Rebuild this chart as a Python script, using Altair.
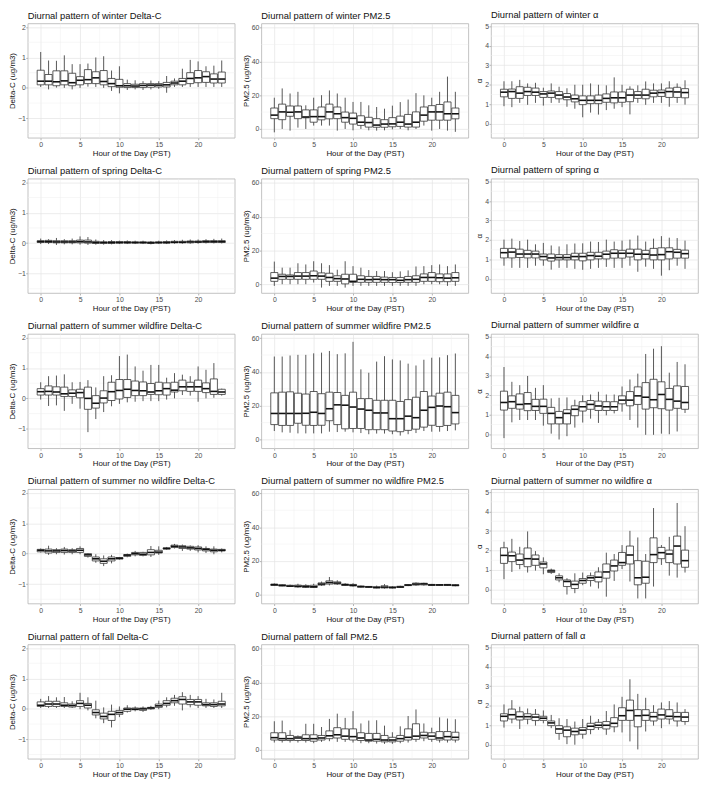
import altair as alt
import pandas as pd

FONT = "Liberation Sans"
HOURS = list(range(24))

# ---------------- winter ----------------
WDC_HI = [1.18,0.90,0.89,1.07,0.78,0.78,0.80,1.00,1.04,0.57,0.71,0.27,0.25,0.22,0.24,0.22,0.39,0.31,0.63,0.92,0.87,0.71,0.73,0.90]
WDC_Q3 = [0.58,0.44,0.56,0.56,0.48,0.37,0.60,0.53,0.57,0.31,0.28,0.14,0.12,0.14,0.14,0.14,0.18,0.22,0.31,0.50,0.57,0.53,0.46,0.52]
WDC_MED = [0.22,0.22,0.20,0.23,0.17,0.25,0.27,0.33,0.21,0.14,0.07,0.07,0.06,0.08,0.09,0.09,0.10,0.16,0.22,0.31,0.33,0.37,0.29,0.29]
WDC_Q1 = [0.10,0.10,0.07,0.10,0.07,0.10,0.14,0.14,0.10,0.04,0.02,0.01,0.01,0.01,0.02,0.03,0.03,0.10,0.10,0.14,0.17,0.18,0.16,0.16]
WDC_LO = [0.03,-0.05,0.01,0.00,-0.05,0.00,0.04,0.03,0.00,-0.10,-0.18,-0.07,-0.05,-0.07,-0.05,-0.03,-0.16,0.03,0.03,0.03,0.03,0.03,0.03,0.03]

WPM_HI = [18.5,24,21,22,14,18.5,20,22.8,21,18.5,16,16,14,13,12,13.8,15.9,17.4,21.2,19.9,18.5,22,31,22]
WPM_Q3 = [12.4,14.7,13.6,13.6,11.3,11.3,13,14.7,13,10,9.4,7.8,6.9,6.1,5.5,6.7,7.6,8.6,10.1,13,13.8,14.5,16,12.4]
WPM_MED = [8.2,10.1,9.9,10.1,7.1,7.3,7.3,10.1,9,6.7,6.3,4,3.8,2.3,2.9,3,4,2.9,4,8.2,10.1,10.1,9,9]
WPM_Q1 = [6.1,5.5,7.5,6.1,6.6,4,5.4,6,6.1,4,2.9,2.1,1.1,1,1,1.3,1.5,1.1,1.1,4.6,5.2,5.2,5.2,6]
WPM_LO = [-2,0,-1,0.8,0,2,2,2,-1,0,-0.8,0,-0.8,-1,-0.8,-0.2,0,-0.8,0,2,-1,0,-1,-1.7]

WAL_HI = [2.18,2.18,2.25,2.07,2.1,1.85,2.07,1.9,1.82,2.0,2.0,2.07,2.0,1.97,2.38,2.0,1.92,1.97,2.17,2.07,2.07,2.18,2.07,2.23]
WAL_Q3 = [1.77,1.78,1.9,1.87,1.83,1.65,1.68,1.65,1.55,1.47,1.43,1.43,1.47,1.53,1.63,1.63,1.77,1.65,1.77,1.72,1.73,1.83,1.87,1.8]
WAL_MED = [1.62,1.65,1.57,1.65,1.62,1.53,1.57,1.47,1.37,1.28,1.2,1.2,1.2,1.3,1.33,1.33,1.47,1.47,1.47,1.57,1.6,1.65,1.63,1.6]
WAL_Q1 = [1.38,1.3,1.3,1.45,1.45,1.35,1.35,1.28,1.23,1.12,0.98,1.03,1.03,1.1,1.07,1.1,1.13,1.3,1.28,1.38,1.4,1.35,1.35,1.33]
WAL_LO = [0.9,0.85,1.07,0.97,1.07,0.93,1.07,1.07,0.87,0.77,0.33,0.57,0.47,0.7,0.77,0.85,0.48,1.07,0.97,1.07,1.07,0.87,1.07,0.98]

# ---------------- spring ----------------
SPDC_HI = [0.15,0.13,0.17,0.13,0.15,0.22,0.20,0.12,0.10,0.10,0.08,0.09,0.08,0.08,0.07,0.08,0.09,0.10,0.11,0.12,0.12,0.13,0.14,0.15]
SPDC_Q3 = [0.08,0.09,0.08,0.08,0.08,0.10,0.10,0.06,0.04,0.05,0.05,0.05,0.04,0.04,0.04,0.04,0.05,0.06,0.06,0.07,0.07,0.08,0.08,0.08]
SPDC_MED = [0.05,0.05,0.04,0.04,0.04,0.05,0.04,0.02,0.02,0.02,0.02,0.02,0.02,0.02,0.01,0.02,0.02,0.03,0.03,0.04,0.04,0.05,0.05,0.05]
SPDC_Q1 = [0.02,0.02,0.01,0.01,0.01,0.01,0.00,-0.01,-0.01,-0.01,0.00,0.00,0.00,0.00,-0.01,0.00,0.00,0.01,0.01,0.01,0.02,0.02,0.02,0.02]
SPDC_LO = [-0.03,-0.03,-0.06,-0.04,-0.04,-0.05,-0.06,-0.05,-0.05,-0.04,-0.03,-0.03,-0.03,-0.03,-0.04,-0.03,-0.03,-0.02,-0.02,-0.02,-0.02,-0.01,-0.01,-0.01]

SPPM_HI = [13.4,9.8,9.8,12.4,11.7,13.6,12.4,11.3,8.6,13.6,10.7,9.8,8.4,7.8,7.8,7.1,7.6,8.2,10.5,10.7,11.3,11.7,10.7,11.7]
SPPM_Q3 = [6.9,5.9,5.5,6.9,6.9,7.8,6.7,6.5,5,5.9,5.9,5,4.6,4.6,4.2,4,4,4.6,5,6.1,6.9,6.1,6.1,6.9]
SPPM_MED = [3.6,4.6,4.6,4.8,4.8,5,4.8,4,3.3,3.1,1.7,2.9,2.7,2.9,2.7,2.7,2.3,2.7,2.9,4,4,3.8,3.6,3.8]
SPPM_Q1 = [1.7,2.9,2.9,2.9,2.9,2.9,2.9,1.7,1.7,0.2,1.1,1.1,1.1,1.1,1.1,1,1,1.1,1.1,1.7,1.7,1.5,1.5,1.7]
SPPM_LO = [-1,0,0,0,0,1,-2,-1,-1,-2,-1,-1,-1,-1,-1,-1,-1,-1,-1,0,0,0,-1,-1]

SPAL_HI = [2.02,2.07,1.95,2.02,1.78,1.85,1.72,1.67,1.78,1.82,1.83,1.92,1.9,2.02,1.92,1.97,2.02,2.23,1.92,2.07,2.2,2.12,2.1,1.97]
SPAL_Q3 = [1.57,1.57,1.53,1.47,1.43,1.28,1.28,1.25,1.25,1.32,1.32,1.37,1.37,1.43,1.5,1.47,1.53,1.53,1.47,1.57,1.6,1.6,1.52,1.48]
SPAL_MED = [1.35,1.38,1.28,1.28,1.28,1.15,1.08,1.1,1.1,1.15,1.15,1.2,1.17,1.27,1.32,1.32,1.32,1.27,1.27,1.23,1.25,1.4,1.37,1.3]
SPAL_Q1 = [1.08,1.08,1.1,1.08,1.08,0.98,0.92,0.98,0.98,0.98,0.93,0.98,1.03,1.03,1.07,1.07,1.13,0.98,1.03,0.98,0.98,1.03,1.07,1.07]
SPAL_LO = [0.68,0.57,0.57,0.57,0.68,0.68,0.48,0.57,0.57,0.52,0.47,0.52,0.57,0.62,0.57,0.57,0.68,0.37,0.63,0.52,0.17,0.45,0.68,0.52]

# ---------------- summer wildfire ----------------
SWDC_HI = [0.53,0.73,0.75,0.79,0.53,0.54,0.60,0.36,0.73,0.76,1.39,1.44,1.05,0.91,1.10,1.10,0.68,0.83,0.78,0.73,1.05,0.94,1.16,0.32]
SWDC_Q3 = [0.32,0.41,0.38,0.37,0.28,0.30,0.37,0.09,0.25,0.53,0.62,0.62,0.57,0.54,0.49,0.53,0.51,0.53,0.60,0.53,0.60,0.51,0.64,0.30]
SWDC_MED = [0.22,0.23,0.21,0.15,0.17,0.19,0.00,-0.16,0.01,0.22,0.26,0.30,0.26,0.25,0.21,0.25,0.32,0.27,0.38,0.38,0.38,0.32,0.23,0.21]
SWDC_Q1 = [0.11,0.11,0.11,0.06,0.06,0.02,-0.36,-0.32,-0.15,-0.07,-0.02,0.03,0.09,0.09,0.13,0.12,0.11,0.21,0.25,0.23,0.23,0.19,0.13,0.13]
SWDC_LO = [-0.04,-0.25,-0.23,-0.41,-0.18,-0.34,-1.11,-0.68,-0.45,-0.26,-0.18,-0.13,-0.11,-0.09,-0.09,-0.09,-0.04,0.00,0.11,0.09,-0.11,0.00,0.02,0.09]

SWPM_HI = [49.1,49.1,49.7,50.1,50.1,51,51.4,52.4,50.5,51,57.8,41.5,39.5,46.1,49.3,47.4,46.8,44.9,43.8,47.2,48.4,48.6,49.9,50.9]
SWPM_Q3 = [27.6,28,28.2,27.4,26.9,28.4,27.1,28,27.8,26.1,28,24.2,24.2,23.2,23.2,23.2,22.5,23.6,25,28.4,25.7,27.4,28,26.1]
SWPM_MED = [15.4,15.4,15.4,15.4,15.5,16.1,15.4,18.2,20.5,20.3,19.2,18,17.3,15.7,15.7,12.3,12.3,13.8,12.9,17.3,19,19.8,19.4,15.9]
SWPM_Q1 = [8.8,8.3,8.3,9.6,8.4,8.3,8.4,11.1,8.8,6.3,6.5,6.5,5.8,5.8,5.8,5,4.6,5.4,6.1,7.3,8.4,7.7,8.3,9.2]
SWPM_LO = [5,4.2,4,3.6,3.6,3.6,3.6,4.6,4.4,4.6,4.2,3.8,3.1,3.5,3.5,3.1,2.3,3.1,3.8,5,4.6,4.6,5,5.4]

SWAL_HI = [3.45,2.69,2.52,2.99,2.38,2.52,1.84,1.87,1.89,1.77,2.0,2.04,2.18,2.04,2.04,2.45,2.81,3.11,4.12,4.39,4.52,3.16,3.71,3.59]
SWAL_Q3 = [2.21,1.97,2.07,2.14,1.79,1.8,1.38,1.17,1.26,1.46,1.67,1.73,1.7,1.67,1.67,1.97,2.19,2.43,2.65,2.82,2.69,2.35,2.48,2.45]
SWAL_MED = [1.63,1.67,1.53,1.56,1.43,1.43,1.07,0.85,1.07,1.28,1.41,1.53,1.45,1.41,1.41,1.75,1.75,1.97,1.9,1.77,2.04,1.79,1.7,1.63]
SWAL_Q1 = [1.24,1.33,1.29,1.21,1.22,1.07,0.53,0.53,0.53,0.95,1.19,1.28,1.22,1.22,1.22,1.56,1.46,1.53,1.29,1.36,1.31,1.24,1.33,1.28]
SWAL_LO = [-0.2,0.61,0.73,0.73,0.73,0.44,0.03,-0.27,-0.1,0.34,0.6,0.8,0.58,0.97,1.07,1.16,0.73,0.34,-0.03,-0.03,0.03,0.0,0.14,1.09]

# ---------------- summer no wildfire ----------------
SNDC_HI = [0.17,0.26,0.18,0.22,0.18,0.24,0.02,-0.02,-0.06,-0.04,-0.11,0.0,0.09,0.06,0.25,0.24,0.22,0.32,0.30,0.27,0.28,0.24,0.24,0.17]
SNDC_Q3 = [0.14,0.15,0.13,0.15,0.13,0.17,0.0,-0.11,-0.17,-0.11,-0.13,-0.03,0.04,0.04,0.13,0.11,0.19,0.28,0.26,0.24,0.22,0.17,0.15,0.14]
SNDC_MED = [0.11,0.09,0.09,0.10,0.09,0.11,-0.04,-0.17,-0.25,-0.17,-0.15,-0.05,0.0,-0.02,0.04,0.05,0.17,0.24,0.22,0.19,0.17,0.14,0.11,0.11]
SNDC_Q1 = [0.06,0.02,0.04,0.04,0.04,0.04,-0.09,-0.24,-0.32,-0.24,-0.18,-0.09,-0.04,-0.06,-0.04,0.02,0.15,0.2,0.17,0.15,0.12,0.09,0.06,0.09]
SNDC_LO = [0.04,-0.04,-0.02,-0.03,-0.02,-0.02,-0.13,-0.3,-0.41,-0.32,-0.2,-0.12,-0.09,-0.09,-0.11,-0.04,0.13,0.17,0.09,0.09,0.04,0.02,-0.02,0.04]

SNPM_HI = [6.7,6.1,6.0,6.5,6.2,6.5,7.8,10.5,8.6,6.8,6.8,5.4,5.1,5.4,6.3,5.0,5.3,6.2,7.3,7.1,6.4,6.2,6.3,6.2]
SNPM_Q3 = [6.3,5.9,5.6,5.7,5.5,5.6,7.0,8.2,7.6,6.3,6.1,5.1,4.9,4.7,5.3,4.6,5.0,6.0,6.9,6.8,6.1,6.0,6.1,5.9]
SNPM_MED = [5.9,5.5,5.1,5.0,4.8,4.7,6.3,7.2,6.9,5.9,5.6,4.8,4.6,4.3,4.5,4.3,4.6,5.7,6.3,6.4,5.8,5.8,5.8,5.6]
SNPM_Q1 = [5.5,5.2,4.9,4.6,4.4,4.3,5.7,6.3,6.3,5.5,5.2,4.5,4.4,4.0,4.0,4.0,4.3,5.4,5.7,5.8,5.5,5.5,5.5,5.3]
SNPM_LO = [5.2,5.0,4.6,4.2,4.0,4.0,5.2,5.5,5.8,5.2,4.8,4.2,4.2,3.8,3.6,3.7,4.0,5.1,5.3,5.4,5.2,5.2,5.2,5.0]

SNAL_HI = [2.45,2.6,2.19,2.98,1.97,1.65,1.07,0.83,0.58,0.83,0.87,0.87,1.14,1.89,1.82,2.28,3.01,2.67,1.82,4.18,2.28,2.7,4.44,3.25]
SNAL_Q3 = [2.14,1.92,1.82,2.13,1.77,1.41,1.0,0.7,0.49,0.43,0.56,0.7,0.9,1.31,1.51,1.9,2.23,1.48,1.45,2.65,2.16,2.02,2.74,2.02]
SNAL_MED = [1.75,1.73,1.51,1.58,1.56,1.31,0.95,0.6,0.41,0.26,0.46,0.6,0.63,0.9,1.21,1.38,1.77,0.6,0.63,1.79,1.89,1.82,2.23,1.48]
SNAL_Q1 = [1.34,1.43,1.28,1.17,1.24,1.11,0.87,0.49,0.15,0.05,0.32,0.46,0.39,0.58,0.95,1.24,1.31,0.24,0.32,1.38,1.58,1.38,1.31,1.14]
SNAL_LO = [0.53,0.9,1.04,0.87,0.97,0.78,0.8,0.37,-0.26,-0.19,0.22,0.15,0.05,-0.37,0.44,1.05,0.41,-0.46,-0.46,0.15,1.26,0.71,0.61,0.87]

# ---------------- fall ----------------
FDC_HI = [0.33,0.42,0.38,0.39,0.25,0.53,0.38,0.27,0.05,0.14,0.08,0.12,0.08,0.08,0.10,0.27,0.38,0.46,0.55,0.46,0.42,0.33,0.31,0.53]
FDC_Q3 = [0.23,0.25,0.25,0.20,0.16,0.27,0.18,-0.03,-0.14,-0.08,-0.05,0.03,0.03,0.03,0.05,0.16,0.27,0.35,0.40,0.31,0.31,0.20,0.20,0.25]
FDC_MED = [0.12,0.16,0.16,0.12,0.11,0.18,0.12,-0.12,-0.25,-0.18,-0.12,-0.01,-0.01,0.0,0.03,0.10,0.18,0.27,0.31,0.23,0.23,0.14,0.14,0.16]
FDC_Q1 = [0.08,0.08,0.08,0.08,0.06,0.08,0.03,-0.2,-0.33,-0.38,-0.18,-0.08,-0.03,-0.05,0.0,0.05,0.12,0.2,0.16,0.14,0.12,0.1,0.08,0.1]
FDC_LO = [0.03,0.03,0.03,0.03,0.03,-0.01,-0.05,-0.31,-0.47,-0.61,-0.27,-0.12,-0.08,-0.1,-0.03,-0.01,0.05,0.1,-0.05,0.05,0.03,0.03,0.03,0.03]

FPM_HI = [17,17.4,11.7,8.6,15.5,15.5,13.6,18.4,21.5,19,23,15.7,17.4,17.6,14.4,10.5,14,20.1,24,15.7,13.2,19.3,18.6,18.2]
FPM_Q3 = [10.2,10.2,8.6,8,9,9,8.6,11.3,13.2,12.5,12.5,10.2,9.8,9.8,8.6,7.5,8.6,12.5,15.5,10.5,10.2,10.9,10.9,10.5]
FPM_MED = [7.3,6.7,6.7,7.1,6.7,6.7,7.1,8.4,9,8.2,7.9,7.1,5.9,6.3,5.9,5.9,6.7,7.5,8.2,8.6,8.2,7.1,7.9,7.5]
FPM_Q1 = [5.9,5.6,5.6,5.6,5.6,5.2,5.9,6.7,7.1,6.3,5.9,5.6,5.2,5.2,4.8,4.8,5.2,5.9,6.3,7.1,6.3,5.9,5.9,5.9]
FPM_LO = [4.4,4.4,4.4,4.4,4.4,4,4.8,5.2,4.8,4.8,4.4,4,4,3.8,3.6,3.6,4,4.4,4.8,5.2,4.8,4.4,4.4,4.4]

FAL_HI = [2.07,2.29,1.95,1.86,1.83,1.76,1.53,1.36,1.32,1.19,1.32,1.49,1.32,1.73,2.07,2.46,3.36,2.61,2.41,2.03,2.17,2.24,2.17,1.83]
FAL_Q3 = [1.59,1.83,1.69,1.59,1.56,1.46,1.22,0.98,0.92,0.85,0.88,1.1,1.15,1.19,1.39,1.9,2.29,1.8,1.8,1.66,1.83,1.8,1.66,1.66]
FAL_MED = [1.46,1.54,1.44,1.44,1.42,1.36,1.12,0.81,0.75,0.68,0.75,0.95,1.0,1.0,1.1,1.49,1.76,1.49,1.51,1.44,1.53,1.46,1.44,1.42]
FAL_Q1 = [1.22,1.32,1.27,1.31,1.24,1.25,0.98,0.58,0.41,0.51,0.54,0.78,0.88,0.81,0.92,1.25,1.25,0.92,1.25,1.22,1.32,1.32,1.22,1.19]
FAL_LO = [0.88,1.1,0.81,1.05,0.98,1.1,0.85,0.25,0.03,0.0,0.31,0.54,0.76,0.51,0.64,0.63,0.17,-0.24,0.68,0.98,0.85,1.05,0.93,1.02]

SEASONS = ["winter", "spring", "summer wildfire", "summer no wildfire", "fall"]

# axis definitions
X_DOMAIN = [-1.65, 24.65]
X_TICKS = [0, 5, 10, 15, 20]
X_MINOR = [2.5, 7.5, 12.5, 17.5, 22.5]
AXES = {
    "dc": {"domain": [-1.64, 2.12], "ticks": [-1, 0, 1, 2], "minor": [-1.5, -0.5, 0.5, 1.5],
           "title": "Delta-C (ug/m3)", "name": "Delta-C"},
    "pm": {"domain": [-5.2, 62.5], "ticks": [0, 20, 40, 60], "minor": [10, 30, 50],
           "title": "PM2.5 (ug/m3)", "name": "PM2.5"},
    "al": {"domain": [-0.72, 5.15], "ticks": [0, 1, 2, 3, 4, 5], "minor": [-0.5, 0.5, 1.5, 2.5, 3.5, 4.5],
           "title": "α", "name": "α"},
}

PANELS = [
    [("dc", WDC_LO, WDC_Q1, WDC_MED, WDC_Q3, WDC_HI), ("pm", WPM_LO, WPM_Q1, WPM_MED, WPM_Q3, WPM_HI), ("al", WAL_LO, WAL_Q1, WAL_MED, WAL_Q3, WAL_HI)],
    [("dc", SPDC_LO, SPDC_Q1, SPDC_MED, SPDC_Q3, SPDC_HI), ("pm", SPPM_LO, SPPM_Q1, SPPM_MED, SPPM_Q3, SPPM_HI), ("al", SPAL_LO, SPAL_Q1, SPAL_MED, SPAL_Q3, SPAL_HI)],
    [("dc", SWDC_LO, SWDC_Q1, SWDC_MED, SWDC_Q3, SWDC_HI), ("pm", SWPM_LO, SWPM_Q1, SWPM_MED, SWPM_Q3, SWPM_HI), ("al", SWAL_LO, SWAL_Q1, SWAL_MED, SWAL_Q3, SWAL_HI)],
    [("dc", SNDC_LO, SNDC_Q1, SNDC_MED, SNDC_Q3, SNDC_HI), ("pm", SNPM_LO, SNPM_Q1, SNPM_MED, SNPM_Q3, SNPM_HI), ("al", SNAL_LO, SNAL_Q1, SNAL_MED, SNAL_Q3, SNAL_HI)],
    [("dc", FDC_LO, FDC_Q1, FDC_MED, FDC_Q3, FDC_HI), ("pm", FPM_LO, FPM_Q1, FPM_MED, FPM_Q3, FPM_HI), ("al", FAL_LO, FAL_Q1, FAL_MED, FAL_Q3, FAL_HI)],
]

PW, PH = 210, 116
GRID = "#e3e3e3"
MINOR_GRID = "#efefef"
BOX = "#333333"


def panel(season, kind, lo, q1, med, q3, hi):
    cfg = AXES[kind]
    df = pd.DataFrame({"hour": HOURS, "lo": lo, "q1": q1, "med": med, "q3": q3, "hi": hi})
    xs = alt.Scale(domain=X_DOMAIN, nice=False, zero=False)
    ys = alt.Scale(domain=cfg["domain"], nice=False, zero=False)
    xax = alt.Axis(values=X_TICKS, title="Hour of the Day (PST)", grid=True)
    yax = alt.Axis(values=cfg["ticks"], title=cfg["title"], grid=True)

    xminor = alt.Chart(pd.DataFrame({"v": X_MINOR})).mark_rule(
        color=MINOR_GRID, strokeWidth=0.5
    ).encode(x=alt.X("v:Q", scale=xs, axis=xax))
    yminor = alt.Chart(pd.DataFrame({"v": cfg["minor"]})).mark_rule(
        color=MINOR_GRID, strokeWidth=0.5
    ).encode(y=alt.Y("v:Q", scale=ys, axis=yax))

    base = alt.Chart(df).transform_calculate(
        xl="datum.hour - 0.45", xr="datum.hour + 0.45"
    )
    whisk = base.mark_rule(color="#444444", strokeWidth=0.9).encode(
        x=alt.X("hour:Q", scale=xs, axis=xax),
        y=alt.Y("lo:Q", scale=ys, axis=yax),
        y2="hi:Q",
    )
    box = base.mark_rect(fill="white", stroke=BOX, strokeWidth=0.8).encode(
        x=alt.X("xl:Q", scale=xs, axis=xax), x2="xr:Q",
        y=alt.Y("q1:Q", scale=ys, axis=yax), y2="q3:Q",
    )
    medl = base.mark_rule(color="#111111", strokeWidth=1.6).encode(
        x=alt.X("xl:Q", scale=xs, axis=xax), x2="xr:Q",
        y=alt.Y("med:Q", scale=ys, axis=yax),
    )
    title = alt.TitleParams(
        f"Diurnal pattern of {season} {cfg['name']}", anchor="start", frame="group",
        fontSize=9.5, fontWeight="normal", font=FONT, color="#111111", offset=3,
    )
    return alt.layer(xminor, yminor, whisk, box, medl).properties(
        width=PW, height=PH, title=title
    )


rows = []
for season, row in zip(SEASONS, PANELS):
    rows.append(alt.hconcat(*[panel(season, *p) for p in row], spacing=6))

chart = alt.vconcat(*rows, spacing=6.5).properties(
    padding={"top": -4, "left": 0, "right": 0, "bottom": 0}
).configure_view(
    stroke="#b3b3b3", strokeWidth=0.8
).configure_axis(
    labelFont=FONT, titleFont=FONT, labelFontSize=7, titleFontSize=8,
    titleFontWeight="normal", labelColor="#4d4d4d", titleColor="#111111",
    tickColor="#b3b3b3", tickSize=2, labelPadding=1, titlePadding=2,
    domain=False, gridColor=GRID, gridWidth=0.7,
).configure_axisY(titlePadding=1, labelPadding=0.5)

chart.save("out.html", embed_options={"renderer": "svg", "actions": False})
